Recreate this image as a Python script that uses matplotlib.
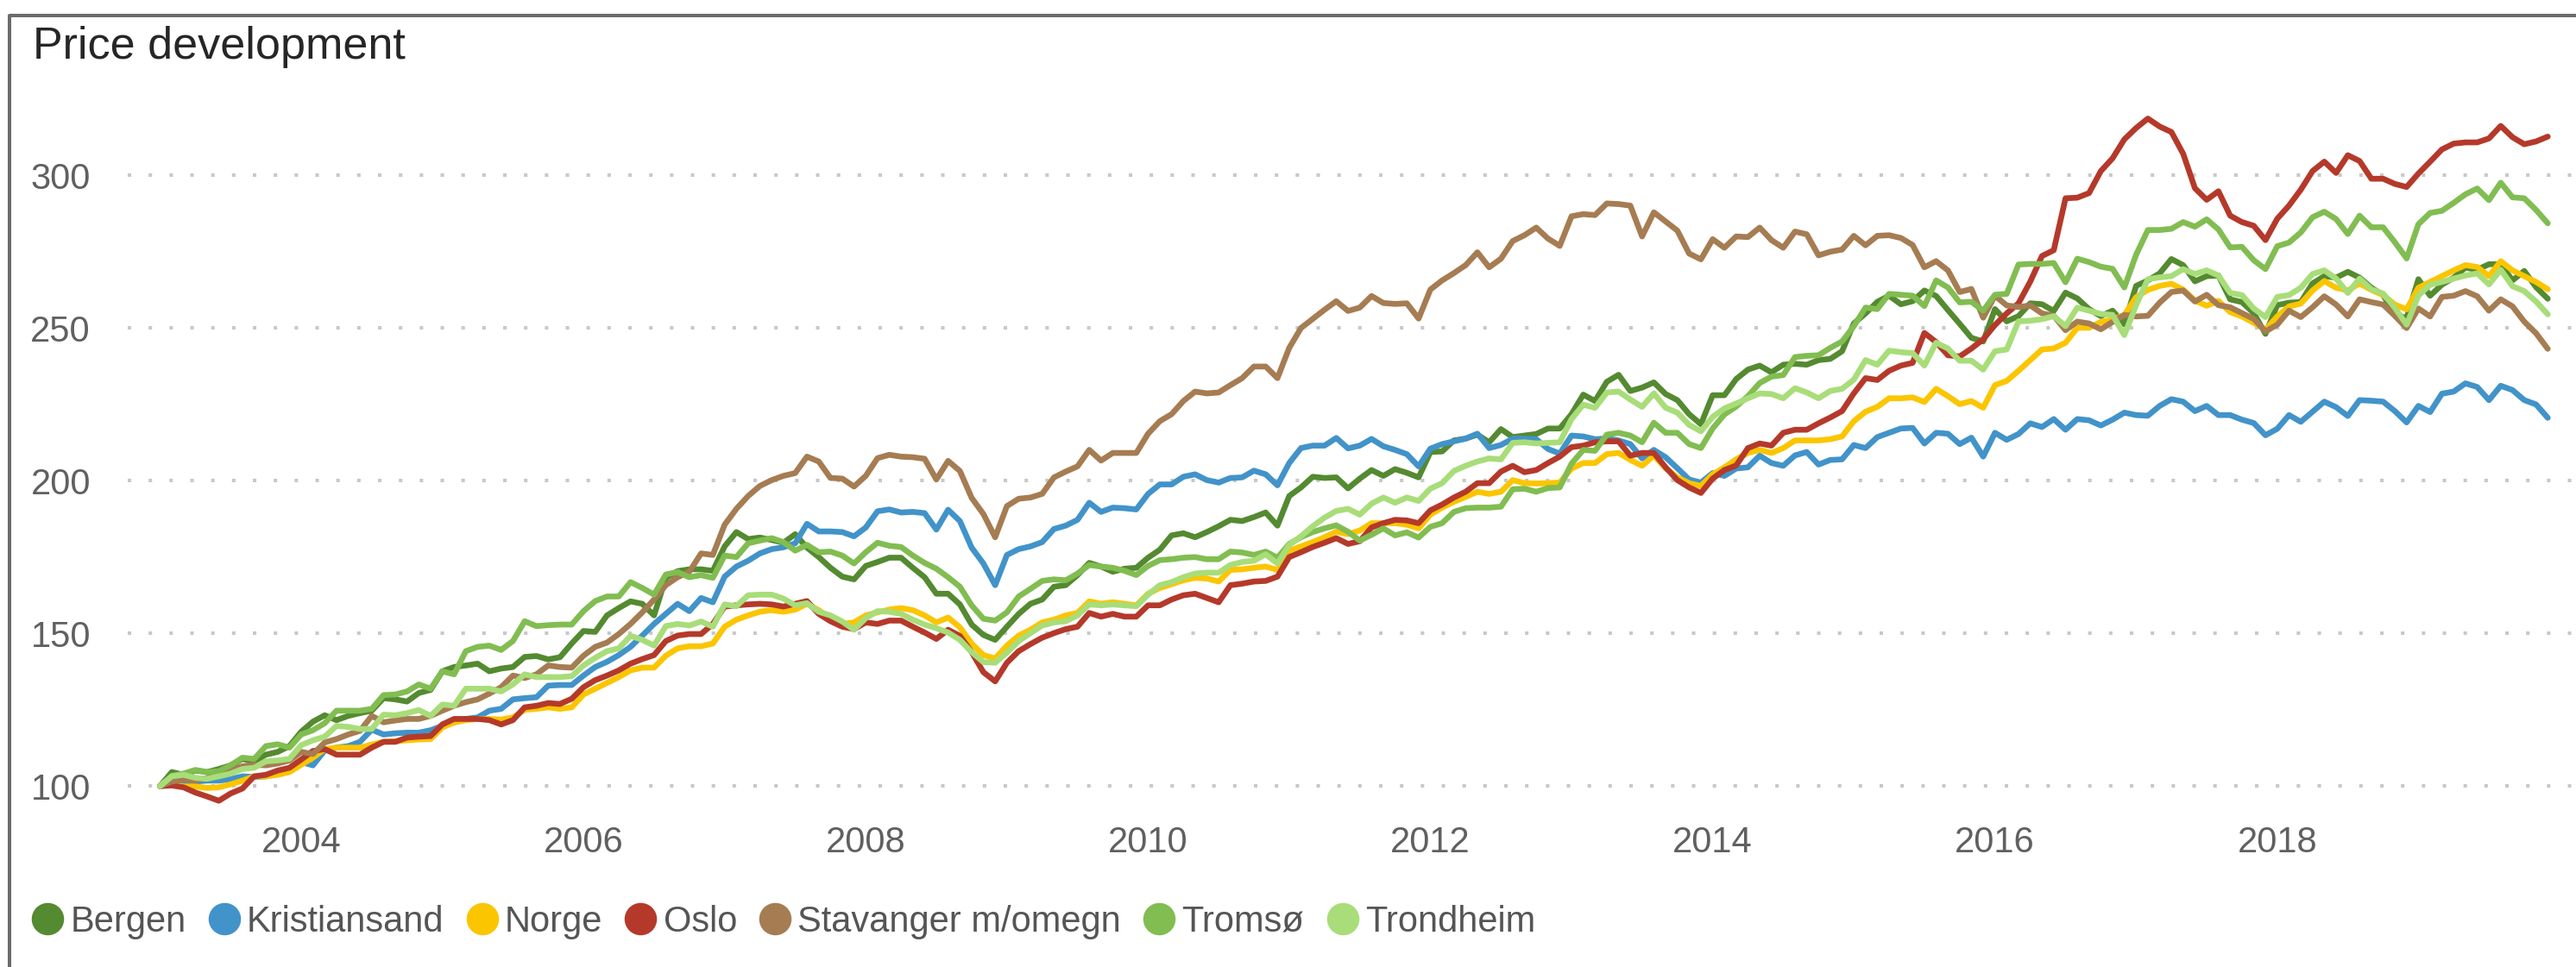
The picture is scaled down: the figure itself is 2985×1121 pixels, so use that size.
import numpy as np
import matplotlib.pyplot as plt
from matplotlib.lines import Line2D

plt.rcParams['font.family'] = ['Liberation Sans', 'DejaVu Sans']

# monthly price index, Jan 2003 = 100, one row per year (2003 .. 2019)
bergen = [
    100, 104.6, 103.7, 105.1, 104.6, 105.6, 106.8, 108.9, 108.1, 110.3, 111.2, 113.1,
    117.8, 121.1, 123.2, 121.6, 123, 123.9, 124.7, 128.8, 128.4, 127.7, 130.5, 131.5,
    137.6, 139, 139.5, 140.1, 137.6, 138.5, 139, 142.3, 142.6, 141.5, 142.2, 146.7,
    150.8, 150.5, 155.9, 158.3, 160.5, 159.7, 155.9, 168.2, 170.4, 171, 171, 170.5,
    178.5, 183.2, 180.9, 181.4, 180.6, 179.7, 182.5, 178.1, 175, 171.5, 168.6, 167.7,
    172.1, 173.4, 174.8, 174.8, 171.5, 168.4, 163, 163, 159.5, 152.9, 149.5, 147.9,
    152.2, 156.4, 159.7, 161.1, 165.3, 165.8, 169.1, 173.1, 171.9, 170.2, 171.2, 171.5,
    174.8, 177.4, 182.1, 182.8, 181.5, 183.2, 185.1, 187.2, 186.8, 188.1, 189.6, 185.3,
    195, 197.8, 201.3, 200.9, 201.1, 197.5, 200.7, 203.5, 201.6, 203.8, 202.6, 201.1,
    209.4, 209.6, 213.2, 213.8, 215.1, 212.6, 216.9, 214.3, 214.8, 215.3, 217.1, 217.1,
    221.8, 228.2, 226.1, 232.4, 234.7, 229.4, 230.5, 232.2, 228.4, 226.4, 221.8, 218.5,
    228, 228, 233.3, 236.4, 237.7, 235.5, 238, 238.3, 238, 239.5, 239.9, 242.4,
    251.5, 254.8, 258.6, 260.6, 257.8, 258.8, 262.3, 260.5, 255.9, 251.4, 246.8, 245.6,
    256.2, 252.2, 253.9, 258.1, 257.8, 255.6, 261.6, 259.7, 256.2, 253.9, 255.7, 251.2,
    263.8, 265.6, 267.9, 272.6, 270.6, 265.3, 267, 267.2, 259.4, 258.5, 254.9, 248.1,
    257.5, 258.3, 258.5, 264.6, 267, 266.5, 268.4, 266.5, 263.2, 260.8, 254.4, 253.3,
    266, 260.6, 264.2, 266.5, 269.8, 269.1, 270.9, 270.9, 265.6, 268.7, 263.4, 259.6,
]
kristiansand = [
    100, 100.8, 101.3, 101.5, 101.8, 101.8, 102.3, 103.2, 103, 103.2, 103.9, 105.1,
    107.9, 106.8, 111.7, 112.6, 113.1, 114.5, 118.5, 116.9, 117.3, 117.5, 117.5, 118.3,
    119.7, 120.9, 122, 122.5, 124.7, 125.3, 128.4, 128.8, 129.1, 132.9, 133.1, 133.1,
    136.2, 139, 140.7, 142.9, 145.6, 149.3, 153.1, 156.4, 159.7, 157.3, 161.6, 160.2,
    168.6, 171.9, 173.8, 176.2, 177.6, 178.2, 179.5, 185.9, 183.4, 183.4, 183.2, 181.8,
    184.7, 190, 190.6, 189.6, 189.8, 189.4, 184, 190.5, 186.8, 178.1, 172.9, 165.8,
    175.7, 177.6, 178.5, 179.9, 184.2, 185.3, 187.2, 192.8, 189.8, 191.2, 191, 190.6,
    195.7, 198.8, 198.8, 201.3, 202.1, 200.2, 199.4, 200.9, 201.1, 203.3, 202.1, 198.5,
    205.8, 210.7, 211.5, 211.5, 214, 210.6, 211.5, 213.7, 211.3, 210.1, 208.7, 204.7,
    210.5, 212, 212.9, 213.8, 215.4, 210.7, 211.7, 213.8, 213.8, 213.6, 210.4, 208.9,
    214.8, 214.5, 213.6, 213.8, 213.2, 212, 207.3, 210.1, 207.7, 204.1, 200.4, 199.4,
    202.5, 201.6, 204, 204.4, 208.2, 205.8, 204.9, 208.3, 209.4, 205.3, 206.8, 207,
    211.7, 210.7, 214.3, 215.7, 217.1, 217.3, 212.2, 215.7, 215.4, 212, 214.1, 207.9,
    215.7, 213.4, 215.3, 218.8, 217.6, 220.2, 216.7, 220.2, 219.8, 218.1, 220, 222.3,
    221.5, 221.3, 224.5, 226.7, 225.9, 222.8, 224.5, 221.5, 221.5, 220, 218.9, 214.9,
    217, 221.5, 219.3, 222.6, 225.9, 224.1, 221.2, 226.4, 226.2, 225.9, 222.8, 219.1,
    224.5, 222.5, 228.5, 229.2, 231.9, 230.7, 226.4, 231.1, 229.7, 226.4, 225, 220.6,
]
norge = [
    100, 100.4, 99.9, 99.9, 99.4, 99.6, 100.6, 101.8, 103.2, 103.2, 103.7, 104.6,
    107, 109.3, 112.1, 112.6, 112.6, 112.6, 113.6, 114.5, 114.7, 115, 115.3, 115.4,
    119.2, 120.9, 121.6, 122, 122, 121.8, 122.5, 125, 125.3, 125.8, 125.3, 125.8,
    130, 131.9, 133.8, 135.7, 137.9, 138.8, 138.8, 142.7, 145.1, 145.8, 145.8, 146.7,
    152.2, 154.5, 155.9, 157.1, 157.6, 157.1, 157.8, 159.7, 157.6, 155, 153.1, 153.6,
    155.9, 156.9, 157.8, 158.3, 157.6, 155.9, 153.6, 155.2, 152, 146.7, 142.9, 141.8,
    146, 149.3, 151.2, 153.6, 154.5, 155.9, 156.7, 160.5, 159.7, 160.2, 159.7, 159.2,
    163, 164.9, 166.1, 167.4, 168.2, 168, 167, 170.8, 171, 171.5, 171.9, 170.8,
    177.1, 178.5, 179.9, 181.5, 183.3, 182.5, 183.7, 186.1, 186.1, 186.1, 185.6, 184.4,
    188.9, 191.2, 193.1, 194.7, 196.4, 195.7, 196.4, 200.2, 199.2, 199.1, 199.2, 199.4,
    204, 205.8, 205.8, 208.7, 209.1, 206.8, 204.9, 208.2, 204.1, 201.1, 199.2, 198.3,
    202.1, 204.4, 207, 209.1, 210.1, 209.1, 210.7, 213.2, 213.2, 213.2, 213.6, 214.5,
    219.5, 222.6, 224.2, 227, 227, 227.3, 225.8, 230.1, 227.7, 225.1, 226.1, 223.9,
    231.3, 232.7, 236, 239.5, 243, 243.3, 245.2, 250.1, 250.1, 252, 252.7, 254.3,
    260.1, 262.5, 263.8, 264.5, 262.6, 259, 257.3, 258.9, 255.2, 253.8, 251.7, 249.5,
    253.8, 257.1, 258, 262.3, 265.4, 263.2, 262.3, 264.6, 262.5, 260.8, 257.7, 256.1,
    263.2, 265.1, 267, 268.9, 270.6, 270, 267, 271.9, 268.9, 267, 265.1, 262.7,
]
oslo = [
    100, 100.2, 99.6, 97.9, 96.6, 95.2, 97.6, 99.2, 103.2, 103.7, 105.1, 106,
    108.7, 111.5, 112.1, 110.3, 110.3, 110.3, 112.6, 114.5, 114.5, 115.9, 116.2, 116.4,
    120.2, 122, 122, 122, 121.6, 120.2, 121.6, 125.8, 126.3, 127.2, 126.9, 128.6,
    132.4, 134.7, 136.2, 137.9, 140.1, 141.6, 142.9, 147.5, 149.3, 149.8, 149.8, 153.1,
    158.8, 159.2, 159.5, 159.7, 159.5, 158.8, 159.7, 160.6, 156.4, 154, 152.2, 151.4,
    153.6, 153.1, 154.2, 154.2, 152.2, 150.3, 148.2, 151.2, 149.2, 143.9, 137.3, 134.3,
    140.4, 144.2, 146.5, 148.6, 150.1, 151.4, 152.2, 156.7, 155.5, 156.4, 155.5, 155.5,
    159.2, 159.2, 161.1, 162.5, 163, 161.6, 160.2, 165.8, 166.3, 167, 167.2, 168.6,
    175, 176.6, 178.3, 179.7, 181.2, 179.3, 180.2, 184.7, 186.1, 187.2, 187, 186.1,
    190.3, 192.2, 194.5, 196.4, 199.2, 199.2, 203, 204.9, 202.8, 203.5, 205.8, 207.9,
    211, 211.5, 212.6, 212.9, 212.9, 208.2, 209.1, 209.1, 204.4, 200.2, 197.8, 196,
    200.7, 203.5, 205, 210.7, 212.2, 211.5, 215.7, 216.7, 216.7, 218.8, 220.7, 222.8,
    228.6, 233.6, 233, 236, 237.7, 238.6, 248.4, 245.4, 241.1, 240.7, 243.3, 246.3,
    251, 254.8, 258.1, 265.2, 273.6, 275.5, 292.5, 292.7, 294.2, 301.4, 305.6, 311.8,
    315.5, 318.6, 316, 314.2, 307.1, 295.8, 292, 294.8, 286.8, 284.7, 283.5, 278.8,
    285.8, 290.1, 295.3, 301.4, 304.5, 300.8, 306.6, 304.7, 298.9, 298.9, 297.2, 296.2,
    300.6, 304.5, 308.5, 310.4, 310.8, 310.8, 312.1, 316.2, 312.5, 310.2, 311.1, 312.7,
]
stavanger = [
    100, 101.5, 102.1, 101.8, 102.7, 103.7, 105.3, 106.5, 107, 106.8, 107.4, 108.4,
    111.2, 110.5, 114.3, 115.4, 116.9, 118.1, 123, 120.9, 121.5, 122, 122, 123,
    124.7, 126.3, 127.5, 128.4, 130.3, 132.4, 136.2, 135.4, 136.6, 139.5, 139, 138.8,
    142.7, 145.6, 147, 149.8, 153.1, 156.9, 161.1, 165.8, 168.4, 170.2, 176.2, 175.7,
    185.6, 190.8, 195, 198.3, 200.2, 201.6, 202.5, 207.9, 206.3, 200.9, 200.7, 198.1,
    201.6, 207.4, 208.5, 207.9, 207.7, 207.2, 200.4, 206.5, 203.2, 194.4, 189.1, 181.5,
    191.7, 194.1, 194.5, 195.7, 201.1, 203, 204.7, 210.1, 206.6, 209.1, 209.1, 209.1,
    215.4, 219.5, 221.8, 226.1, 229.2, 228.6, 228.9, 231.3, 233.6, 237.4, 237.4, 233.6,
    243.5, 250, 253, 256, 258.8, 255.6, 256.7, 260.5, 258.2, 257.9, 258.1, 253.1,
    262.6, 265.6, 268, 270.6, 274.8, 269.9, 272.7, 278.5, 280.4, 282.9, 279.3, 276.9,
    286.6, 287.3, 287, 290.8, 290.6, 290.1, 280, 287.9, 284.9, 281.9, 274.4, 272.5,
    279.1, 276.3, 280, 279.8, 282.9, 278.8, 276.3, 281.6, 280.7, 273.8, 275, 275.7,
    280.2, 277.1, 280.2, 280.4, 279.5, 277.2, 269.9, 271.9, 268.9, 261.8, 262.8, 253.4,
    260.6, 257.4, 256.9, 257.4, 254.8, 254, 249.3, 252.1, 251.5, 249.6, 252, 254.3,
    253.8, 254, 258.3, 261.8, 262.3, 258.7, 260.9, 257.5, 256.8, 254.9, 253, 248.9,
    251.1, 255.7, 253.6, 256.8, 260.4, 257.7, 253.8, 259.4, 258.5, 257.7, 254, 250,
    256.4, 253.8, 260.2, 260.6, 262.1, 260.4, 255.7, 259.4, 257.1, 252.1, 248.3, 243.2,
]
tromso = [
    100, 103.4, 104.1, 105.3, 104.6, 104.9, 106.8, 109.3, 108.9, 113.1, 113.7, 112.6,
    116.9, 118.3, 120.6, 124.7, 124.7, 124.7, 125.3, 129.8, 130, 131, 133.3, 131.9,
    137.6, 136.6, 144.2, 145.6, 146, 144.6, 147.5, 154, 152.4, 152.7, 152.9, 152.9,
    157.3, 160.6, 162.1, 162.1, 166.8, 164.9, 162.7, 169.3, 170.1, 168.4, 169.1, 168.2,
    175.5, 175, 179.5, 180.4, 181.2, 179.9, 177.1, 179, 176.6, 176.8, 175.5, 172.9,
    176.6, 179.7, 178.7, 178.3, 175.5, 173.1, 171.2, 168.4, 165.3, 159.2, 154.8, 154.2,
    156.9, 162.1, 164.6, 167.2, 167.7, 167.4, 169.6, 172.4, 171.9, 171.5, 170.5, 169.1,
    172.1, 174, 174.3, 174.8, 175, 174.3, 174.3, 176.8, 176.5, 175.7, 176.8, 174.8,
    179.3, 181.5, 183.2, 184.4, 185.4, 183.3, 180.4, 182.3, 184.4, 182.1, 183.1, 181.4,
    184.9, 186.1, 189.8, 191, 191.2, 191.2, 191.5, 197.2, 197.4, 196.4, 197.6, 197.8,
    205.6, 210.1, 209.8, 215.1, 215.7, 214.8, 212.6, 219, 215.7, 215.7, 212, 210.7,
    217.1, 221.7, 224.3, 227.7, 232, 234.1, 234.6, 240.5, 240.9, 241.1, 243.5, 245.6,
    250.6, 256.7, 256.2, 261.2, 260.9, 260.6, 257.2, 265.6, 263.3, 258.4, 258.6, 255.7,
    260.9, 261.2, 270.8, 271, 271, 271.3, 265, 272.7, 271.6, 270.1, 269.4, 263.3,
    274, 282.1, 282.1, 282.5, 284.7, 283.2, 285.6, 282.3, 276.4, 276.6, 272.2, 269.3,
    276.8, 278, 281.3, 286.3, 288.1, 285.7, 280.8, 286.8, 283, 283, 278.1, 272.8,
    284, 287.7, 288.4, 291, 293.8, 295.7, 291.9, 297.6, 292.8, 292.5, 288.7, 284.3,
]
trondheim = [
    100, 103.2, 103.7, 102.7, 102.4, 103.2, 104.1, 105.6, 106, 108.1, 108.4, 108.9,
    113.4, 115, 116.2, 119.7, 119.4, 118.7, 118.7, 123.4, 123.2, 123.9, 124.9, 123,
    126.7, 126.3, 131.9, 131.9, 131.9, 131, 133.3, 136.6, 135.7, 135.7, 135.7, 136,
    139.5, 142, 144.2, 145.1, 149.2, 147.9, 146, 152.4, 153.1, 152.6, 153.9, 152.2,
    159.5, 158.9, 162.5, 162.7, 162.7, 161.4, 159.2, 159.9, 157.1, 155.9, 153.9, 151.2,
    155, 157.3, 157.1, 156.4, 154.5, 152.9, 151.7, 150.3, 147.9, 143.9, 140.6, 140.4,
    143.7, 147.5, 150.1, 152.6, 153.6, 154, 155.9, 159.5, 159.2, 159.5, 159.2, 158.9,
    162.7, 165.8, 166.8, 168.4, 169.6, 169.9, 169.9, 172.4, 173.4, 173.8, 175.9, 172.9,
    179, 181.8, 185.1, 187.9, 190.1, 190.8, 188.9, 192.5, 194.5, 192.8, 194.5, 193.4,
    197.4, 199.2, 203.2, 204.9, 206.3, 207.3, 207, 212.4, 212.6, 212.2, 212.4, 212.6,
    220.2, 224.9, 223.9, 228.9, 229.2, 226.6, 224.2, 228.6, 223.9, 222.3, 218.3, 216.2,
    220.9, 223.7, 225.3, 227, 228.6, 228.4, 227, 230.3, 228.9, 227, 229.4, 230.1,
    233.1, 239.5, 238, 242.6, 242.1, 241.8, 237.7, 245.2, 243.3, 239.3, 239.3, 236.4,
    242.4, 243, 252.2, 252.4, 252.9, 253.9, 250.6, 256.7, 255.7, 254.6, 254.3, 247.7,
    257.5, 266, 266.6, 267, 269.3, 267.7, 268.9, 267.2, 261.5, 260.8, 256.4, 253.6,
    260.2, 260.8, 263.2, 267.7, 268.9, 266.2, 261.5, 266.2, 262.7, 261.3, 256.6, 251.1,
    260.6, 264.2, 265.1, 266.2, 267.2, 267.9, 264.3, 269.1, 263.7, 262.1, 258.7, 254.5,
]

names = ['Bergen', 'Kristiansand', 'Norge', 'Oslo', 'Stavanger m/omegn', 'Tromsø', 'Trondheim']
colors = ['#548a30', '#4193c9', '#fbc500', '#b5392a', '#a67c52', '#81bd51', '#a8dd79']
series = [bergen, kristiansand, norge, oslo, stavanger, tromso, trondheim]

year_ticks = [2004, 2006, 2008, 2010, 2012, 2014, 2016, 2018]
value_ticks = [100, 150, 200, 250, 300]

W, H = 2985, 1121
fig = plt.figure(figsize=(W / 100, H / 100), dpi=100)

# plot area in pixels: x 148..2980, y 97..947
ax = fig.add_axes([148 / W, 1 - 946.7 / H, (2980 - 148) / W, (946.7 - 97.1) / H])

for vals, name, col in zip(series, names, colors):
    x = 2003 + np.arange(len(vals)) / 12.0
    ax.plot(x, vals, color=col, linewidth=4.8, label=name,
            solid_joinstyle='round', solid_capstyle='round')

ax.set_xlim(2002.771, 2020.086)
ax.set_ylim(90, 330)
ax.set_xticks(year_ticks)
ax.set_xticklabels([str(y) for y in year_ticks])
ax.set_yticks(value_ticks)

ax.set_axisbelow(True)
ax.yaxis.grid(True, color='#c8c8c8', linewidth=2.9, linestyle=(0, (1, 5)))
ax.xaxis.grid(False)
for s in ax.spines.values():
    s.set_visible(False)
ax.tick_params(axis='y', length=0, pad=31, labelsize=30, labelcolor='#606060')
ax.tick_params(axis='x', length=0, pad=7.4, labelsize=30, labelcolor='#606060')

fig.text(38 / W, 1 - 68 / H, 'Price development', fontsize=37.5, color='#262626',
         ha='left', va='baseline')

handles = [Line2D([], [], marker='o', linestyle='none', markersize=26, color=c) for c in colors]
fig.legend(handles, names, loc='center left', bbox_to_anchor=(37 / W, 1 - 1069 / H),
           ncol=7, frameon=False, fontsize=30, handlelength=0.86, handletextpad=0.2,
           columnspacing=0.63, borderaxespad=0, borderpad=0, labelcolor='#555555')

# grey frame along the left and top edges
fig.add_artist(Line2D([11 / W, 11 / W, 1.0], [0, 1 - 18 / H, 1 - 18 / H],
                      transform=fig.transFigure, color='#6b6b6b', linewidth=2.9))

fig.savefig('out.png', dpi=100)
